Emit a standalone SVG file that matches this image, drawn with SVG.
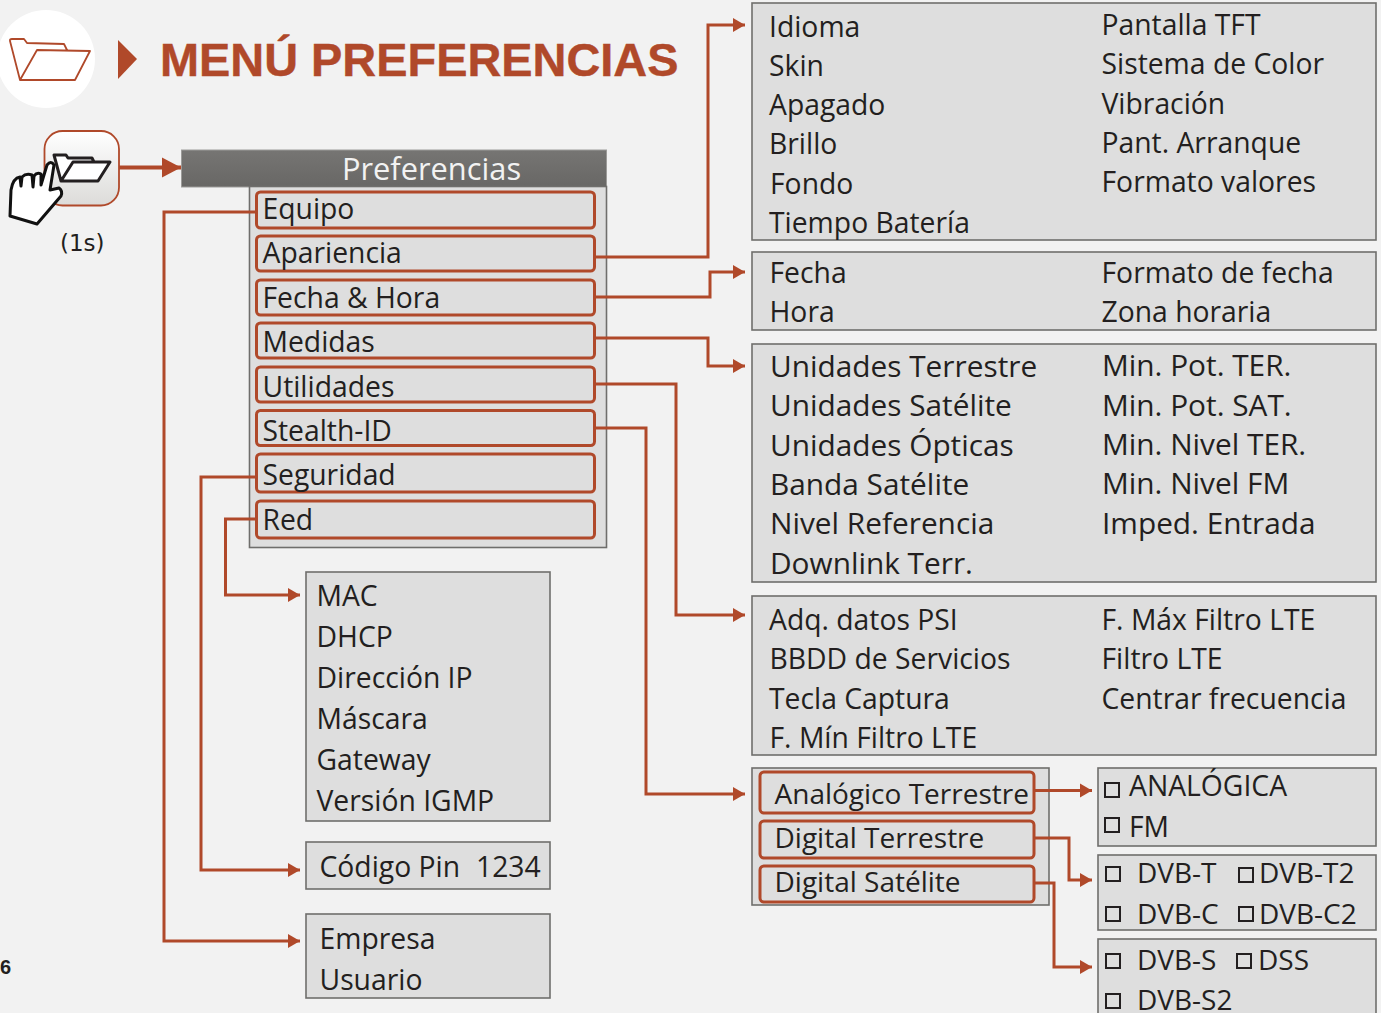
<svg xmlns="http://www.w3.org/2000/svg" width="1381" height="1013" viewBox="0 0 1381 1013">
<style>
text{font-family:"Open Sans","Noto Sans",sans-serif;font-size:28.300px;fill:#231f20}
.m text{font-size:29.800px}
.n text{font-size:28px}
.box{fill:#dedede;stroke:#6f6e6c;stroke-width:1.6}
.item{fill:#dedede;stroke:#b0492a;stroke-width:3}
.c{fill:none;stroke:#b0492a;stroke-width:3;marker-end:url(#a)}
.chk{fill:none;stroke:#231f20;stroke-width:2}
</style>
<defs>
<marker id="a" markerUnits="userSpaceOnUse" markerWidth="14" markerHeight="16" refX="13" refY="8" orient="auto"><path d="M1 1L13 8L1 15Z" fill="#b0492a"/></marker>
<marker id="b" markerUnits="userSpaceOnUse" markerWidth="20" markerHeight="22" refX="19" refY="11" orient="auto"><path d="M0 1L19 11L0 21Z" fill="#b0492a"/></marker>
<linearGradient id="g" x1="0" y1="0" x2="0" y2="1"><stop offset="0" stop-color="#fff"/><stop offset="1" stop-color="#dcdbd9"/></linearGradient>
<linearGradient id="h" x1="0" y1="0" x2="0" y2="1"><stop offset="0" stop-color="#767573"/><stop offset="1" stop-color="#686765"/></linearGradient>
</defs>
<rect width="1381" height="1013" fill="#f2f2f2"/>
<g id="title">
<circle cx="46" cy="59" r="49" fill="#fff"/>
<path d="M20 80L10 41Q9.500 39 12 39L24 39L27 43L64 44L67 50M20 80L37 50L90 51L75 80Z" fill="none" stroke="#b0492a" stroke-width="1.800" stroke-linejoin="round"/>
<path d="M118 40L137 59L118 79Z" fill="#b0492a"/>
<text x="160" y="75.500" style="font-family:'Liberation Sans',sans-serif;font-size:46.900px;font-weight:700;fill:#b0492a;stroke:#b0492a;stroke-width:.4">MENÚ PREFERENCIAS</text>
</g>
<g id="folder-button">
<rect x="44.500" y="131" width="74.500" height="74.500" rx="18" fill="url(#g)" stroke="#b0492a" stroke-width="1.800"/>
<path d="M61 181L54 155L66 155L68 158L92 158L94 162M61 181L73 162L110 162L98 181Z" fill="#fff" stroke="#231f20" stroke-width="3" stroke-linejoin="round"/>
<path d="M37 224L10 216L11 190Q13 178 20 177L21 186L22 177Q26 173 32 175L33 187L34 176Q37 172 41 174L41 185L47 165Q51 160 54 165L50 190L59 188Q63 191 61 196Z" fill="#fff" stroke="#111" stroke-width="3" stroke-linejoin="round"/>
<text x="60" y="251" style="font-size:23px;font-family:'DejaVu Sans',sans-serif">(1s)</text>
</g>
<g id="preferencias">
<rect x="181.500" y="150" width="425" height="37" fill="url(#h)" stroke="#9c9b99"/>
<text x="431.500" y="180" text-anchor="middle" style="fill:#f2f2f2;font-size:30.800px">Preferencias</text>
<rect class="box" x="249.500" y="186.500" width="357" height="361"/>
</g>
<g id="equipo"><rect class="item" x="256.500" y="192" width="338" height="36" rx="4"/><text x="262.500" y="219">Equipo</text></g>
<g id="apariencia"><rect class="item" x="256.500" y="236" width="338" height="35" rx="4"/><text x="262.500" y="263">Apariencia</text></g>
<g id="fecha-hora"><rect class="item" x="256.500" y="280" width="338" height="35" rx="4"/><text x="262.500" y="308">Fecha &amp; Hora</text></g>
<g id="medidas"><rect class="item" x="256.500" y="323" width="338" height="35" rx="4"/><text x="262.500" y="352">Medidas</text></g>
<g id="utilidades"><rect class="item" x="256.500" y="367" width="338" height="35" rx="4"/><text x="262.500" y="397">Utilidades</text></g>
<g id="stealth"><rect class="item" x="256.500" y="410.500" width="338" height="35" rx="4"/><text x="262.500" y="441">Stealth-ID</text></g>
<g id="seguridad"><rect class="item" x="256.500" y="454" width="338" height="38" rx="4"/><text x="262.500" y="485">Seguridad</text></g>
<g id="red"><rect class="item" x="256.500" y="501" width="338" height="37" rx="4"/><text x="262.500" y="530">Red</text></g>
<g id="apariencia-opts"><rect class="box" x="752" y="3" width="624" height="237"/>
<text x="769" y="37">Idioma</text><text x="769" y="76">Skin</text><text x="769" y="115">Apagado</text><text x="769" y="154">Brillo</text><text x="770" y="194">Fondo</text><text x="769" y="233">Tiempo Batería</text>
<text x="1101.500" y="35">Pantalla TFT</text><text x="1101.500" y="74">Sistema de Color</text><text x="1101.500" y="114">Vibración</text><text x="1101.500" y="153">Pant. Arranque</text><text x="1101.500" y="192">Formato valores</text></g>
<g id="fecha-opts"><rect class="box" x="752" y="252" width="624" height="78"/>
<text x="769.500" y="283">Fecha</text><text x="769.500" y="322">Hora</text><text x="1101.500" y="283">Formato de fecha</text><text x="1101.500" y="322">Zona horaria</text></g>
<g id="medidas-opts" class="m"><rect class="box" x="752" y="344" width="624" height="238"/>
<text x="770" y="377">Unidades Terrestre</text><text x="770" y="416">Unidades Satélite</text><text x="770" y="456">Unidades Ópticas</text><text x="770" y="495">Banda Satélite</text><text x="770" y="534">Nivel Referencia</text><text x="770" y="574">Downlink Terr.</text>
<text x="1102" y="376">Min. Pot. TER.</text><text x="1102" y="416">Min. Pot. SAT.</text><text x="1102" y="455">Min. Nivel TER.</text><text x="1102" y="494">Min. Nivel FM</text><text x="1102" y="534">Imped. Entrada</text></g>
<g id="utilidades-opts"><rect class="box" x="752" y="596" width="624" height="159"/>
<text x="769" y="630">Adq. datos PSI</text><text x="769.500" y="669">BBDD de Servicios</text><text x="769" y="709">Tecla Captura</text><text x="769.500" y="748">F. Mín Filtro LTE</text>
<text x="1101.500" y="630">F. Máx Filtro LTE</text><text x="1101.500" y="669">Filtro LTE</text><text x="1101.500" y="709">Centrar frecuencia</text></g>
<g id="red-opts"><rect class="box" x="306" y="572" width="244" height="249"/>
<text x="316.500" y="606">MAC</text><text x="316.500" y="647">DHCP</text><text x="316.500" y="688">Dirección IP</text><text x="316.500" y="729">Máscara</text><text x="316.500" y="770">Gateway</text><text x="316.500" y="811">Versión IGMP</text></g>
<g id="pin"><rect class="box" x="306" y="842" width="244" height="47"/><text x="319.500" y="877">Código Pin</text><text x="476" y="877">1234</text></g>
<g id="equipo-opts"><rect class="box" x="306" y="914" width="244" height="84"/><text x="319.500" y="949">Empresa</text><text x="319.500" y="990">Usuario</text></g>
<g id="stealth-panel"><rect class="box" x="752" y="768" width="297" height="137"/></g>
<g id="analogico" class="n"><rect class="item" x="760" y="772" width="274" height="41" rx="4"/><text x="774.500" y="804">Analógico Terrestre</text></g>
<g id="dig-terr" class="n"><rect class="item" x="760" y="821" width="274" height="37" rx="4"/><text x="774.500" y="848">Digital Terrestre</text></g>
<g id="dig-sat" class="n"><rect class="item" x="760" y="866" width="274" height="36" rx="4"/><text x="774.500" y="892">Digital Satélite</text></g>
<g id="analog-opts"><rect class="box" x="1098" y="768" width="278" height="78"/>
<rect class="chk" x="1105" y="783" width="14" height="14"/><text x="1129" y="796">ANALÓGICA</text>
<rect class="chk" x="1105" y="818" width="14" height="14"/><text x="1129" y="837">FM</text></g>
<g id="dvbt-opts" class="n"><rect class="box" x="1098" y="855" width="278" height="75"/>
<rect class="chk" x="1106" y="867" width="14" height="14"/><text x="1137" y="883">DVB-T</text>
<rect class="chk" x="1239" y="868" width="14" height="14"/><text x="1259" y="883">DVB-T2</text>
<rect class="chk" x="1106" y="907" width="14" height="14"/><text x="1137" y="924">DVB-C</text>
<rect class="chk" x="1239" y="907" width="14" height="14"/><text x="1259" y="924">DVB-C2</text></g>
<g id="dvbs-opts" class="n"><rect class="box" x="1098" y="939" width="278" height="80"/>
<rect class="chk" x="1106" y="954" width="14" height="14"/><text x="1137" y="970">DVB-S</text>
<rect class="chk" x="1237" y="954" width="14" height="14"/><text x="1258" y="970">DSS</text>
<rect class="chk" x="1106" y="994" width="14" height="14"/><text x="1137" y="1010">DVB-S2</text></g>
<g id="connectors">
<path class="c" d="M119 167.500H181" style="marker-end:url(#b);stroke-width:4"/>
<path class="c" d="M595 257H708V25H745"/>
<path class="c" d="M595 297H710V272H745"/>
<path class="c" d="M595 338H708V366H745"/>
<path class="c" d="M595 384H676V615H745"/>
<path class="c" d="M595 428H646V794H745"/>
<path class="c" d="M257 212H164V941H300"/>
<path class="c" d="M257 477H201V870H300"/>
<path class="c" d="M257 519H225.500V595H300"/>
<path class="c" d="M1035 790.500H1092"/>
<path class="c" d="M1035 838H1069V880H1092"/>
<path class="c" d="M1035 883H1054V967H1092"/>
</g>
<text x="0" y="974" style="font-family:'Liberation Sans',sans-serif;font-size:20px;font-weight:700">6</text>
</svg>
